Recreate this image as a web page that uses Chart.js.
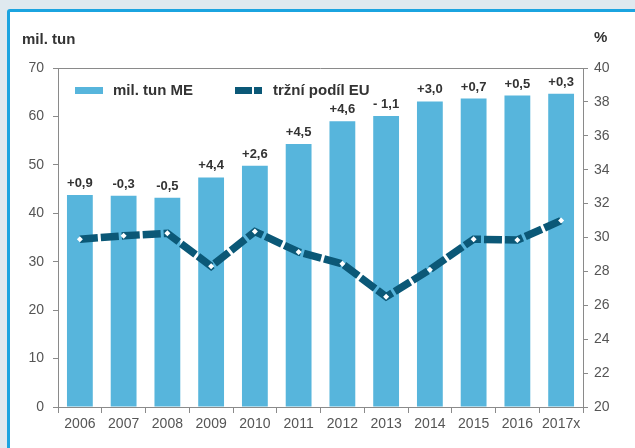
<!DOCTYPE html>
<html>
<head>
<meta charset="utf-8">
<script src="https://cdn.jsdelivr.net/npm/chart.js@4/dist/chart.umd.min.js"></script>
<style>
  body { margin: 0; background: #dfe9ef; width: 635px; height: 448px; overflow: hidden; position: relative; }
  .frame { position: absolute; left: 7px; top: 9px; width: 640px; height: 460px; border: 3px solid #1ba4e0; border-radius: 3px; background: #fff; }
  canvas { position: absolute; left: 0; top: 0; }
</style>
</head>
<body>
<div class="frame"></div>
<canvas id="chart" width="635" height="448"></canvas>
<script>
// roky
const years = ['2006', '2007', '2008', '2009', '2010', '2011', '2012', '2013', '2014', '2015', '2016', '2017x'];
// mil. tun ME
const tons = [43.8, 43.6, 43.2, 47.4, 49.8, 54.3, 59.0, 60.1, 63.1, 63.7, 64.3, 64.7];
// tržní podíl EU (%)
const share = [29.9, 30.1, 30.25, 28.3, 30.35, 29.15, 28.45, 26.5, 28.1, 29.9, 29.85, 31.0];
// popisky nad sloupci
const changes = ['+0,9', '-0,3', '-0,5', '+4,4', '+2,6', '+4,5', '+4,6', '- 1,1', '+3,0', '+0,7', '+0,5', '+0,3'];

const FONT = '"Liberation Sans", Arial, sans-serif';
const BAR = '#57b5dc';
const LINE = '#0b5877';
const AXIS = '#8a8a8a';

// texty, legenda a horní okraj grafu
const extras = {
  id: 'extras',
  afterDatasetsDraw(chart) {
    const ctx = chart.ctx;
    const area = chart.chartArea;
    ctx.save();

    ctx.strokeStyle = AXIS;
    ctx.lineWidth = 1;
    ctx.beginPath();
    ctx.moveTo(area.left, area.top + 0.5);
    ctx.lineTo(area.right, area.top + 0.5);
    ctx.stroke();

    // popisky změn
    ctx.fillStyle = '#333';
    ctx.font = 'bold 13px ' + FONT;
    ctx.textAlign = 'center';
    ctx.textBaseline = 'alphabetic';
    chart.getDatasetMeta(1).data.forEach((bar, i) => {
      ctx.fillText(changes[i], bar.x, bar.y - 8);
    });

    // nadpisy os
    ctx.font = 'bold 15px ' + FONT;
    ctx.textAlign = 'left';
    ctx.textBaseline = 'middle';
    ctx.fillText('mil. tun', 22, 40);
    ctx.fillText('%', 594, 38);

    // legenda
    ctx.fillStyle = BAR;
    ctx.fillRect(75, 87, 28, 7);
    ctx.fillStyle = LINE;
    ctx.fillRect(235, 87, 17, 7);
    ctx.fillRect(254, 87, 8, 7);
    ctx.fillStyle = '#333';
    ctx.fillText('mil. tun ME', 113, 91);
    ctx.fillText('tržní podíl EU', 273, 91);

    ctx.restore();
  }
};

const axisGrid = { display: true, drawOnChartArea: false, drawTicks: true, tickLength: 5, color: AXIS };
const tickFont = { family: FONT, size: 14 };

new Chart(document.getElementById('chart'), {
  data: {
    labels: years,
    datasets: [
      {
        type: 'line',
        data: share,
        yAxisID: 'y1',
        borderColor: LINE,
        borderWidth: 7.5,
        borderDash: [18, 3],
        borderCapStyle: 'butt',
        tension: 0,
        pointStyle: 'rectRot',
        pointRadius: 3,
        pointBackgroundColor: '#fff',
        pointBorderWidth: 0,
        order: 0
      },
      {
        type: 'bar',
        data: tons,
        yAxisID: 'y',
        backgroundColor: BAR,
        barPercentage: 0.59,
        categoryPercentage: 1,
        order: 1
      }
    ]
  },
  options: {
    responsive: false,
    devicePixelRatio: 1,
    animation: false,
    layout: { padding: { top: 68, left: 0, right: 0, bottom: 0 } },
    plugins: { legend: { display: false }, tooltip: { enabled: false } },
    scales: {
      x: {
        offset: true,
        grid: { ...axisGrid, offset: true, tickLength: 6 },
        border: { display: true, color: AXIS },
        ticks: { font: tickFont, color: '#555', padding: 3, maxRotation: 0, autoSkip: false },
        afterFit: (s) => { s.height = 41; }
      },
      y: {
        position: 'left',
        min: 0,
        max: 70,
        grid: axisGrid,
        border: { display: true, color: AXIS },
        ticks: { stepSize: 10, font: tickFont, color: '#555', padding: 9 },
        afterFit: (s) => { s.width = 58; }
      },
      y1: {
        position: 'right',
        min: 20,
        max: 40,
        grid: axisGrid,
        border: { display: true, color: AXIS },
        ticks: { stepSize: 2, font: tickFont, color: '#555', padding: 6 },
        afterFit: (s) => { s.width = 52; }
      }
    }
  },
  plugins: [extras]
});
</script>
</body>
</html>
